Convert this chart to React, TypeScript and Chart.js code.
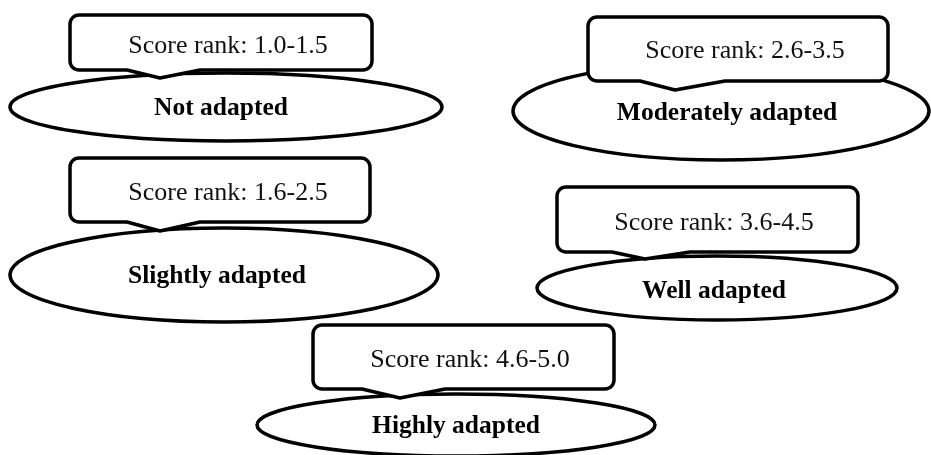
import React, { useEffect, useRef } from "react";
import { Chart, registerables } from "chart.js";

Chart.register(...registerables);

// ---- data ----
const categories = ["Not adapted", "Moderately adapted", "Slightly adapted", "Well adapted", "Highly adapted"];
const scoreLow = [1.0, 2.6, 1.6, 3.6, 4.6];
const scoreHigh = [1.5, 3.5, 2.5, 4.5, 5.0];
const scoreLabelPrefix = "Score rank: ";

// ---- layout (canvas coordinates, via hidden linear scales) ----
// box: [left, top, right, bottom], tip: [x, y, leftSpan, rightSpan], ell: [cx, cy, rx, ry]
const boxes = [
  [70, 15, 372, 70],
  [588, 17, 888, 81],
  [70, 158, 370, 222],
  [557, 187, 858, 252],
  [313, 325, 614, 389],
];
const tips = [
  [160, 78, 33, 40],
  [675, 90, 35, 50],
  [160, 231, 33, 40],
  [645, 259, 33, 45],
  [400, 398, 38, 45],
];
const ellipses = [
  [226, 107, 216, 34],
  [721, 111, 208, 49],
  [224, 275, 214, 47],
  [717, 288, 180, 32],
  [456, 425, 199, 31],
];
const scoreTextPos = [
  [228, 53],
  [745, 58],
  [228, 200],
  [714, 230],
  [470, 367],
];
const catTextPos = [
  [221, 115],
  [727, 120],
  [217, 283],
  [714, 298],
  [456, 433],
];

const W = 931;
const H = 455;

const diagramPlugin = {
  id: "diagram",
  afterDatasetsDraw(chart: any) {
    const ctx = chart.ctx as CanvasRenderingContext2D;
    const xs = chart.scales.x;
    const ys = chart.scales.y;
    const px = (v: number) => xs.getPixelForValue(v);
    const py = (v: number) => ys.getPixelForValue(v);
    ctx.save();
    ctx.lineWidth = 3.5;
    ctx.strokeStyle = "#000";
    ctx.lineJoin = "round";
    categories.forEach((cat, i) => {
      const [cx, cy, rx, ry] = ellipses[i];
      // ellipse
      ctx.beginPath();
      ctx.ellipse(px(cx), py(cy), px(cx + rx) - px(cx), Math.abs(py(cy + ry) - py(cy)), 0, 0, Math.PI * 2);
      ctx.fillStyle = "#fff";
      ctx.fill();
      ctx.stroke();
      // callout box
      const [l0, t0, r0, b0] = boxes[i];
      const l = px(l0), t = py(t0), r = px(r0), b = py(b0);
      const [tx0, ty0, dl, dr] = tips[i];
      const tx = px(tx0), ty = py(ty0);
      const rad = 9;
      ctx.beginPath();
      ctx.moveTo(l + rad, t);
      ctx.lineTo(r - rad, t);
      ctx.arcTo(r, t, r, t + rad, rad);
      ctx.lineTo(r, b - rad);
      ctx.arcTo(r, b, r - rad, b, rad);
      ctx.lineTo(tx + dr, b);
      ctx.lineTo(tx, ty);
      ctx.lineTo(tx - dl, b);
      ctx.lineTo(l + rad, b);
      ctx.arcTo(l, b, l, b - rad, rad);
      ctx.lineTo(l, t + rad);
      ctx.arcTo(l, t, l + rad, t, rad);
      ctx.closePath();
      ctx.fillStyle = "#fff";
      ctx.fill();
      ctx.stroke();
      // texts
      ctx.textAlign = "center";
      ctx.textBaseline = "alphabetic";
      ctx.fillStyle = "#111";
      ctx.font = '26px "Liberation Serif", "Times New Roman", serif';
      const st = scoreLabelPrefix + scoreLow[i].toFixed(1) + "-" + scoreHigh[i].toFixed(1);
      ctx.fillText(st, px(scoreTextPos[i][0]), py(scoreTextPos[i][1]));
      ctx.fillStyle = "#000";
      ctx.font = 'bold 25.5px "Liberation Serif", "Times New Roman", serif';
      ctx.fillText(cat, px(catTextPos[i][0]), py(catTextPos[i][1]));
    });
    ctx.restore();
  },
};

export default function App() {
  const ref = useRef<HTMLCanvasElement | null>(null);
  useEffect(() => {
    document.body.style.margin = "0";
    const canvas = ref.current;
    if (!canvas) return;
    const chart = new Chart(canvas, {
      type: "scatter",
      data: {
        datasets: [
          {
            label: "categories",
            data: ellipses.map((e) => ({ x: e[0], y: e[1] })),
            pointRadius: 0,
            showLine: false,
          },
        ],
      },
      options: {
        responsive: false,
        animation: false,
        devicePixelRatio: 1,
        layout: { padding: 0 },
        plugins: {
          legend: { display: false },
          tooltip: { enabled: false },
          title: { display: false },
        },
        events: [],
        scales: {
          x: { type: "linear", min: 0, max: W, display: false },
          y: { type: "linear", min: 0, max: H, reverse: true, display: false },
        },
      },
      plugins: [diagramPlugin],
    });
    return () => chart.destroy();
  }, []);
  return (
    <div style={{ width: W, height: H, background: "#fff" }}>
      <canvas ref={ref} width={W} height={H} style={{ display: "block" }} />
    </div>
  );
}
